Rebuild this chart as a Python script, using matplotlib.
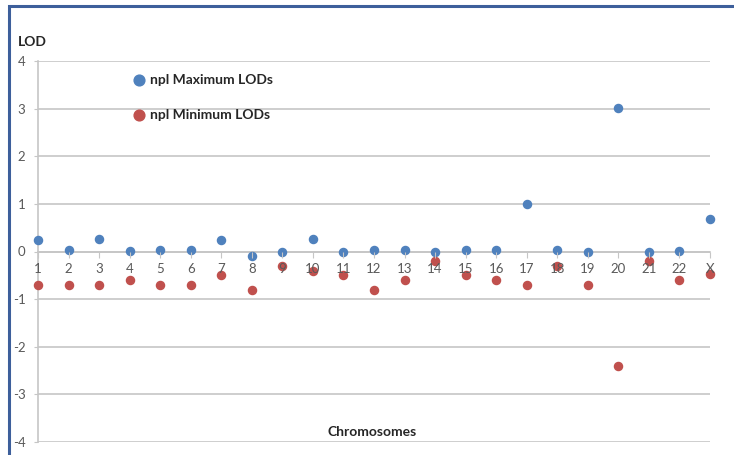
import matplotlib.pyplot as plt
from matplotlib.patches import Rectangle

# chromosome labels and LOD values
chromosomes = [str(i) for i in range(1, 23)] + ['X']
max_lods = [0.24, 0.03, 0.27, 0.02, 0.03, 0.04, 0.24, -0.10, 0.00, 0.27, -0.02, 0.04,
            0.03, 0.00, 0.04, 0.04, 1.00, 0.04, 0.00, 3.02, 0.00, 0.01, 0.68]
min_lods = [-0.70, -0.70, -0.70, -0.60, -0.70, -0.70, -0.50, -0.80, -0.30, -0.40, -0.50, -0.80,
            -0.60, -0.20, -0.50, -0.60, -0.70, -0.30, -0.70, -2.40, -0.20, -0.60, -0.48]
y_ticks = [4, 3, 2, 1, 0, -1, -2, -3, -4]

plt.rcParams['font.family'] = ['Lato', 'DejaVu Sans']

fig = plt.figure(figsize=(7.34, 4.55), dpi=100)
ax = fig.add_axes([38 / 734, 1 - 442 / 455, (710 - 38) / 734, (442 - 61) / 455])

xs = list(range(1, len(chromosomes) + 1))
ax.scatter(xs, max_lods, s=34, color='#4f81bd', zorder=2, clip_on=False)
ax.scatter(xs, min_lods, s=34, color='#c0504d', zorder=2, clip_on=False)

ax.set_xlim(1, len(chromosomes))
ax.set_ylim(-4, 4)
ax.set_yticks(y_ticks)
ax.set_yticklabels([str(v) for v in y_ticks])
ax.yaxis.grid(True, color='#c6c6c6', linewidth=1.2)
ax.set_axisbelow(True)

for side in ['top', 'right']:
    ax.spines[side].set_visible(False)
for side in ['left', 'bottom']:
    ax.spines[side].set_color('#c6c6c6')
    ax.spines[side].set_linewidth(1.2)
    ax.spines[side].set_zorder(1)
ax.spines['bottom'].set_position(('data', 0))

ax.set_xticks(xs)
ax.set_xticklabels(chromosomes)
ax.tick_params(axis='x', length=4, color='#c6c6c6', labelsize=9.5, labelcolor='#595959', pad=4)
ax.tick_params(axis='y', length=3, color='#c6c6c6', labelsize=9.5, labelcolor='#595959', pad=6)
# x labels are printed over the markers in the reference
ax.xaxis.set_zorder(4)

# legend drawn as in the reference (inside plot, no frame)
ax.scatter([4.3], [3.6], s=60, color='#4f81bd', zorder=3)
ax.text(4.68, 3.6, 'npl Maximum LODs', fontsize=10, fontweight='bold', va='center', color='#262626')
ax.scatter([4.3], [2.87], s=60, color='#c0504d', zorder=3)
ax.text(4.68, 2.87, 'npl Minimum LODs', fontsize=10, fontweight='bold', va='center', color='#262626')

fig.text(18 / 734, 1 - 42 / 455, 'LOD', fontsize=10, fontweight='bold', va='center', color='#262626')
fig.text(372 / 734, 1 - 432 / 455, 'Chromosomes', fontsize=10, fontweight='bold',
         ha='center', va='center', color='#262626')

# outer blue frame (top and left visible)
fig.patches.append(Rectangle((9 / 734, -0.1), 1.2, 1 - 6 / 455 + 0.1, transform=fig.transFigure,
                             fill=False, edgecolor='#3d5f9b', linewidth=2.2))

fig.savefig('out.png', dpi=100)
